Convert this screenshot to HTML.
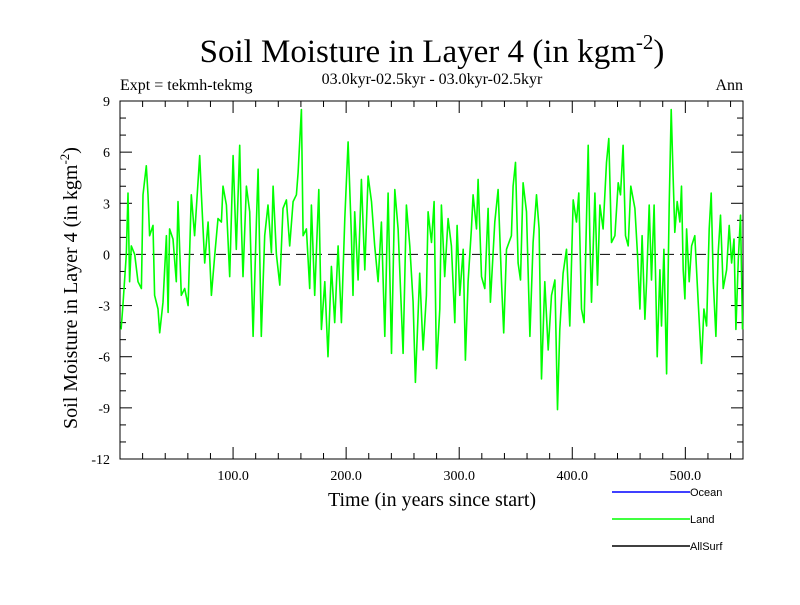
<!DOCTYPE html>
<html><head><meta charset="utf-8"><style>
html,body{margin:0;padding:0;background:#fff;}
svg text{font-family:"Liberation Serif",serif;}
svg text.sans{font-family:"Liberation Sans",sans-serif;}
</style></head><body>
<svg id="chart" width="800" height="600" viewBox="0 0 800 600" xmlns="http://www.w3.org/2000/svg">
<rect x="0" y="0" width="800" height="600" fill="#fff"/>
<text x="432" y="62" font-size="33" text-anchor="middle">Soil Moisture in Layer 4 (in kgm<tspan dy="-13" font-size="21">-2</tspan><tspan dy="13">)</tspan></text>
<text x="120" y="90" font-size="16">Expt = tekmh-tekmg</text>
<text x="432" y="84" font-size="16" text-anchor="middle">03.0kyr-02.5kyr - 03.0kyr-02.5kyr</text>
<text x="743" y="90" font-size="16" text-anchor="end">Ann</text>
<text transform="translate(77,288) rotate(-90)" font-size="20" text-anchor="middle">Soil Moisture in Layer 4 (in kgm<tspan dy="-8" font-size="13">-2</tspan><tspan dy="8">)</tspan></text>
<text x="432" y="506" font-size="20" text-anchor="middle">Time (in years since start)</text>
<g id="axes"></g>
<g id="series"></g>
<g>
<line x1="612" y1="492" x2="690" y2="492" stroke="#0000ff" stroke-width="1.5"/>
<text class="sans" x="690" y="496" font-size="11">Ocean</text>
<line x1="612" y1="519" x2="690" y2="519" stroke="#00ff00" stroke-width="1.5"/>
<text class="sans" x="690" y="523" font-size="11">Land</text>
<line x1="612" y1="546" x2="690" y2="546" stroke="#000" stroke-width="1.5"/>
<text class="sans" x="690" y="550" font-size="11">AllSurf</text>
</g>
</svg>
<script>
const years = [1,2.6,5.6,7.1,8.5,10,13,15.9,18.9,20.3,23.3,24.8,26.2,29.2,30.6,33.6,35.1,38,41,42.5,43.9,46.9,49.8,51.3,54.2,57.2,60.2,63.1,66,70.5,72,74.9,77.9,80.8,83.8,86.7,89.7,91.1,94.1,
97,100,102.9,105.9,107.3,108.8,111.8,114.7,117.7,120.6,122.1,125,128,130.9,133.9,135.4,138.3,141.3,144.2,147.2,150.1,153.1,156,157.5,160.4,161.9,164.9,167.8,169.3,172.2,175.8,178.1,181.1,184,187,
189.9,192.9,195.8,198.8,201.7,204.7,206.1,207.6,210.6,213.5,216.5,219.4,222.4,225.3,228.3,231.2,234.2,237.1,240.1,243,246,250.4,253.3,256.3,259.2,261.3,265.1,268.1,271,272.5,275.5,277.8,
279.9,282.8,284.3,287.2,290.2,293.1,296.1,298.1,300.5,303.5,305.5,307.9,310.8,312.3,315.3,316.7,319.7,322.6,325.6,327.6,331.5,334.4,337.4,339.4,341.8,346.2,347.7,349.8,352.1,354.2,356.5,359.5,362.5,365.4,368.4,370.7,
372.8,375.7,378.7,381.6,384.6,386.9,389,391.9,394.9,397.8,400.8,403.7,405.8,408.2,410.5,414.1,415.5,417,420,422.3,424.4,427.3,430.3,432.3,434.7,437.7,440.6,442.7,445,447.1,449.5,451.8,455.4,457.7,459.8,461.8,464.2,
465.7,468,470.1,472.4,475.1,477.5,478.9,481,483.4,485.7,487.5,489.3,490.7,492.8,495.2,496.6,498.1,499.6,501.1,503.4,505.5,508.4,511.4,514.3,516.4,518.8,521.1,522.9,524.7,527,529.1,531.1,533.5,536.5,538.8,540.9,543,544.7,546.8,548.8,550.6];
const landValues = [-4.4,-3,0,3.6,-1.6,0.5,0,-1.6,-2,3.5,5.2,3.5,1.1,1.7,-2.4,-3.2,-4.6,-2.8,1.1,-3.4,1.5,0.9,-1.6,3.1,-2.4,-2,-3,3.5,1.1,5.8,3.5,-0.5,1.9,-2.4,0,2.1,1.9,4,2.9,
-1.3,5.8,0.3,6.4,1.9,-1.3,4,2.5,-4.8,1.9,5,-4.8,1.1,2.9,0.1,4,0,-1.8,2.7,3.2,0.5,3.1,3.5,4.8,8.5,1.1,1.5,-2,2.9,-2.4,3.8,-4.4,-1.6,-6,-0.7,
-4,0.5,-4,2.1,6.6,1.1,-2.4,2.5,-1.5,4.4,-0.9,4.6,3.1,0.5,-1.6,1.9,-4.8,3.6,-5.8,3.8,1.5,-5.8,2.9,0.5,-2.8,-7.5,-1.1,-5.6,-2.4,2.5,0.7,3.1,
-6.7,-3.2,2.9,-1.3,2.1,0.5,-4,1.7,-2.4,0.3,-6.2,-1.6,1.5,3.5,1.5,4.4,-1.3,-2,2.7,-2.8,1.9,3.8,-1.6,-4.6,0.3,1.1,4,5.4,-0.5,-1.5,4.2,2.5,-4.8,0.7,3.5,1.5,
-7.3,-1.6,-5.6,-2.4,-1.5,-9.1,-4.4,-1.1,0.3,-4.2,3.2,1.9,3.6,-3.2,-4,6.4,1.1,-2.8,3.6,-1.8,2.9,1.5,5.4,6.8,0.7,1.1,4.2,3.5,6.4,1.1,0.5,4,2.7,0,-3.2,1.1,-3.8,
-1.6,2.9,-1.5,2.9,-6,-0.9,-4.2,0.3,-7,2.9,8.5,4.4,1.3,3.1,1.9,4,-0.9,-2.6,1.5,-1.6,0.5,1.1,-2.8,-6.4,-3.2,-4.2,1.5,3.6,-1.6,-4.8,0.1,2.3,-2,-0.9,1.7,-0.5,0.9,-4.4,-0.3,2.3,-4.4];
const yTickValues = [-12,-9,-6,-3,0,3,6,9];
const yTickLabels = ["-12","-9","-6","-3","0","3","6","9"];
const xTickValues = [100,200,300,400,500];
const xTickLabels = ["100.0","200.0","300.0","400.0","500.0"];

const L=120,R=743,T=101,B=459;
const xMin=0,xMax=551,yMin=-12,yMax=9;
function xs(v){return L+(v-xMin)/(xMax-xMin)*(R-L);}
function ys(v){return B-(v-yMin)/(yMax-yMin)*(B-T);}
const NS="http://www.w3.org/2000/svg";
function mk(tag,attrs,parent){const e=document.createElementNS(NS,tag);for(const k in attrs)e.setAttribute(k,attrs[k]);parent.appendChild(e);return e;}
const axes=document.getElementById('axes');
const frame=mk('rect',{x:L,y:T,width:R-L,height:B-T,fill:'none',stroke:'#000','stroke-width':1},axes);


const zl=mk('line',{x1:L,x2:R,y1:ys(0),y2:ys(0),stroke:'#000','stroke-width':1,'stroke-dasharray':'10,6'},axes);


for(let v=yMin;v<=yMax;v++){
  const major=(v%3===0);const len=major?12:6;
  const t1=mk('line',{x1:L,x2:L+len,y1:ys(v),y2:ys(v),stroke:'#000'},axes);
  
  
  const t2=mk('line',{x1:R,x2:R-len,y1:ys(v),y2:ys(v),stroke:'#000'},axes);
  
  
}
yTickValues.forEach((v,i)=>{
  const t=mk('text',{x:L-10,y:ys(v)+5,'font-size':14,'text-anchor':'end'},axes);
  t.textContent=yTickLabels[i];
  
  
});
for(let v=20;v<=xMax;v+=20){
  const major=(v%100===0);const len=major?12:6;
  const t1=mk('line',{x1:xs(v),x2:xs(v),y1:B,y2:B-len,stroke:'#000'},axes);
  
  
  const t2=mk('line',{x1:xs(v),x2:xs(v),y1:T,y2:T+len,stroke:'#000'},axes);
  
  
}
xTickValues.forEach((v,i)=>{
  const t=mk('text',{x:xs(v),y:B+21,'font-size':14,'text-anchor':'middle'},axes);
  t.textContent=xTickLabels[i];
  
  
});
const series=document.getElementById('series');
let d='';
years.forEach((yr,i)=>{d+=(i?'L':'M')+xs(yr).toFixed(1)+','+ys(landValues[i]).toFixed(1);});
const path=mk('path',{d:d,fill:'none',stroke:'#00ff00','stroke-width':1.6,'stroke-linejoin':'round'},series);


</script>
</body></html>
